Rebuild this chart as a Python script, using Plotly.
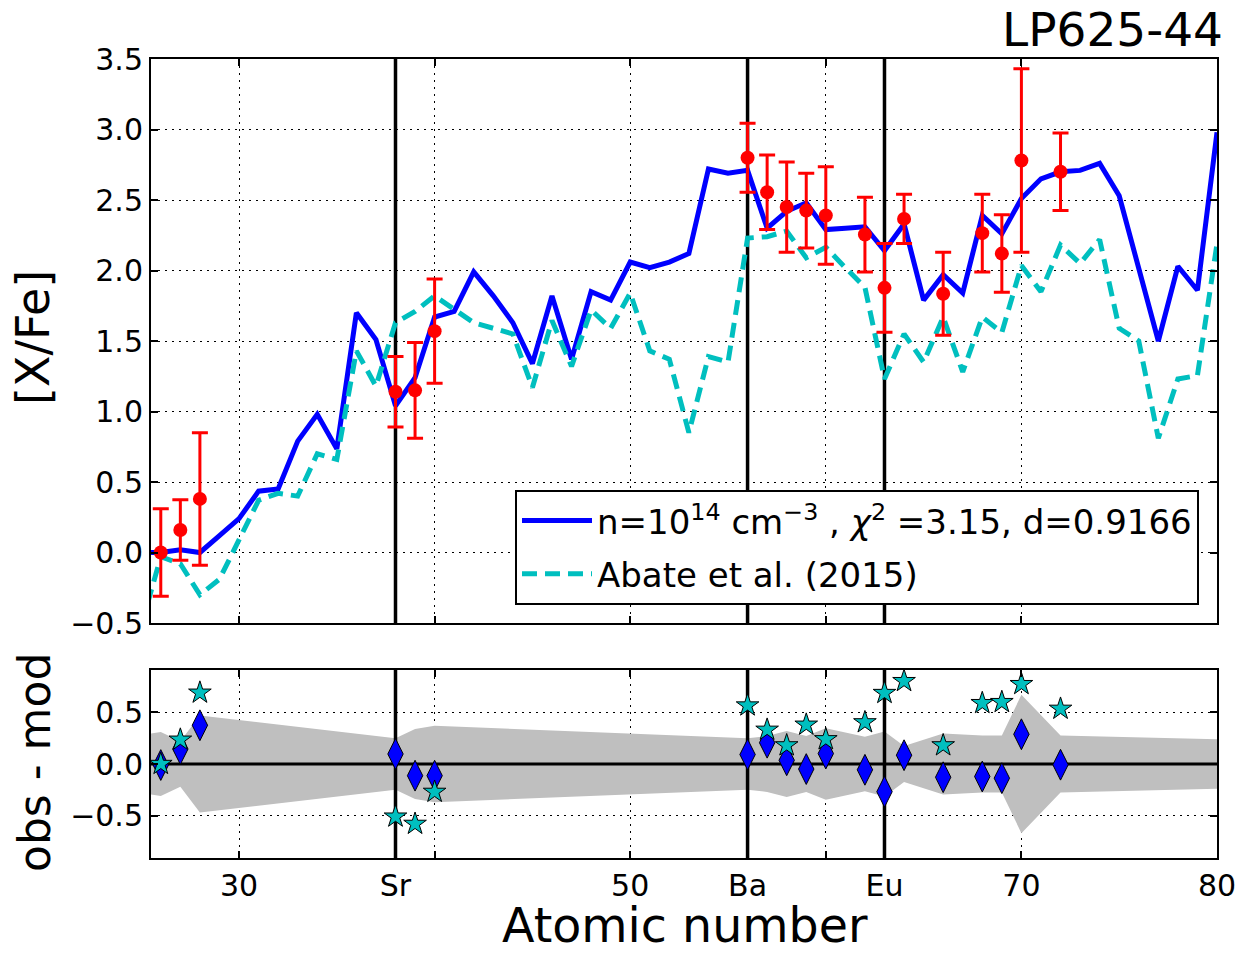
import plotly.graph_objects as go

# ---------------- data ----------------
model_z = list(range(25, 81))
model_n14 = [0.0, 0.0, 0.02, 0.0, 0.12, 0.24, 0.435, 0.45, 0.79, 0.98,
             0.735, 1.70, 1.51, 1.04, 1.24, 1.67, 1.71, 1.99, 1.82, 1.63,
             1.34, 1.82, 1.37, 1.85, 1.79, 2.06, 2.02, 2.06, 2.12, 2.72,
             2.69, 2.71, 2.30, 2.42, 2.48, 2.29, 2.30, 2.31, 2.14, 2.33,
             1.79, 1.97, 1.84, 2.39, 2.26, 2.51, 2.65, 2.70, 2.71, 2.76,
             2.53, 2.02, 1.50, 2.03, 1.86, 2.98]
model_abate = [-0.52, -0.03, -0.08, -0.30, -0.19, 0.10, 0.37, 0.42, 0.40, 0.70,
               0.66, 1.43, 1.18, 1.63, 1.71, 1.82, 1.72, 1.63, 1.59, 1.55,
               1.17, 1.645, 1.32, 1.72, 1.59, 1.84, 1.43, 1.37, 0.85, 1.39,
               1.35, 2.23, 2.24, 2.28, 2.09, 2.165, 2.02, 1.88, 1.23, 1.55,
               1.35, 1.67, 1.28, 1.67, 1.56, 2.035, 1.85, 2.18, 2.05, 2.22,
               1.59, 1.50, 0.81, 1.23, 1.255, 2.19]

obs_z = [26, 27, 28, 38, 39, 40, 56, 57, 58, 59, 60, 62, 63, 64, 66, 68, 69, 70, 72]
obs_val = [0.0, 0.16, 0.38, 1.14, 1.15, 1.57, 2.80, 2.555, 2.45, 2.425, 2.39,
           2.255, 1.877, 2.366, 1.835, 2.265, 2.12, 2.78, 2.70]
obs_err = [0.31, 0.215, 0.47, 0.25, 0.34, 0.37, 0.245, 0.265, 0.32, 0.265, 0.345,
           0.265, 0.315, 0.175, 0.295, 0.275, 0.275, 0.65, 0.275]

resid_model = [-0.01, 0.145, 0.375, 0.097, -0.113, -0.113, 0.092, 0.206, 0.036,
               -0.049, 0.101, -0.056, -0.268, 0.085, -0.128, -0.121, -0.137,
               0.288, -0.007]
resid_abate = [0.0, 0.235, 0.69, -0.51, -0.58, -0.27, 0.566, 0.331, 0.180, 0.380,
               0.239, 0.403, 0.687, 0.802, 0.180, 0.589, 0.599, 0.773, 0.534]

band_z = [25, 26, 27, 28, 38, 39, 40, 56, 57, 58, 59, 60, 62, 63, 64, 66, 68, 69, 70, 72, 80]
band_err = [0.28, 0.31, 0.22, 0.47, 0.25, 0.34, 0.37, 0.25, 0.27, 0.32, 0.27, 0.345,
            0.265, 0.315, 0.175, 0.295, 0.275, 0.275, 0.67, 0.275, 0.24]

marked_z = [38, 56, 63]
x_range = [25.5, 80]
top_y_range = [-0.5, 3.5]
bot_y_range = [-0.91, 0.91]
x_tickvals = [30, 38, 50, 56, 63, 70, 80]
x_ticktext = ["30", "Sr", "50", "Ba", "Eu", "70", "80"]
x_minor_grid = [40, 60]
top_y_ticks = [-0.5, 0.0, 0.5, 1.0, 1.5, 2.0, 2.5, 3.0, 3.5]
bot_y_ticks = [-0.5, 0.0, 0.5]

legend_model = "n=10<sup>14</sup> cm<sup>\u22123</sup> , <i>\u03c7</i><sup>2</sup> =3.15, d=0.9166"
legend_abate = "Abate et al. (2015)"

BLUE = "#0000FF"
CYAN = "#00BFBF"
RED = "#FF0000"
GRAY = "#BFBFBF"

fig = go.Figure()

# ---- bottom panel: uncertainty band ----
fig.add_trace(go.Scatter(
    x=band_z + band_z[::-1],
    y=band_err + [-e for e in band_err[::-1]],
    xaxis="x2", yaxis="y2", mode="lines", fill="toself",
    fillcolor=GRAY, line=dict(width=0, color=GRAY),
    showlegend=False, hoverinfo="skip"))

# zero line bottom
fig.add_trace(go.Scatter(
    x=x_range, y=[0, 0], xaxis="x2", yaxis="y2", mode="lines",
    line=dict(color="black", width=3), showlegend=False, hoverinfo="skip"))

# vertical element lines, both panels
for z in marked_z:
    fig.add_trace(go.Scatter(
        x=[z, z], y=bot_y_range, xaxis="x2", yaxis="y2", mode="lines",
        line=dict(color="black", width=3.5), showlegend=False, hoverinfo="skip"))
    fig.add_trace(go.Scatter(
        x=[z, z], y=top_y_range, xaxis="x", yaxis="y", mode="lines",
        line=dict(color="black", width=3.5), showlegend=False, hoverinfo="skip"))

# ---- top panel: models ----
fig.add_trace(go.Scatter(
    x=model_z, y=model_n14, xaxis="x", yaxis="y", mode="lines",
    line=dict(color=BLUE, width=5), name=legend_model, legendgroup="a"))
fig.add_trace(go.Scatter(
    x=model_z, y=model_abate, xaxis="x", yaxis="y", mode="lines",
    line=dict(color=CYAN, width=5, dash="15px,8px"), name=legend_abate,
    legendgroup="b"))

# observations
fig.add_trace(go.Scatter(
    x=obs_z, y=obs_val, xaxis="x", yaxis="y", mode="markers",
    marker=dict(color=RED, size=14),
    error_y=dict(type="data", array=obs_err, color=RED, thickness=3, width=8),
    showlegend=False))

# ---- bottom panel residuals ----
fig.add_trace(go.Scatter(
    x=obs_z, y=resid_model, xaxis="x2", yaxis="y2", mode="markers",
    marker=dict(symbol="diamond-tall", color=BLUE, size=22,
                line=dict(color="black", width=1)),
    showlegend=False))
fig.add_trace(go.Scatter(
    x=obs_z, y=resid_abate, xaxis="x2", yaxis="y2", mode="markers",
    marker=dict(symbol="star", color=CYAN, size=17,
                line=dict(color="black", width=1)),
    showlegend=False))

axis_common = dict(showline=True, linecolor="black", linewidth=2, mirror="ticks",
                   ticks="inside", ticklen=7, tickwidth=1.5, tickcolor="black",
                   showgrid=True, gridcolor="black", gridwidth=1, griddash="2px,5px",
                   zeroline=False, automargin=False,
                   tickfont=dict(size=30, family="DejaVu Sans"))
x_minor = dict(tickvals=x_minor_grid, showgrid=True, gridcolor="black",
               gridwidth=1, griddash="2px,5px", ticks="inside", ticklen=7,
               tickwidth=1.5, tickcolor="black")

top_bottom_px = 623
bot_top_px = 670
plot_top, plot_bot = 59, 858
ph = plot_bot - plot_top

fig.update_layout(
    width=1244, height=953,
    margin=dict(l=151, r=27, t=59, b=95, pad=0, autoexpand=False),
    paper_bgcolor="white", plot_bgcolor="white",
    font=dict(family="DejaVu Sans", color="black", size=30),
    xaxis=dict(domain=[0, 1], anchor="y", range=x_range,
               tickmode="array", tickvals=x_tickvals, ticktext=x_ticktext,
               showticklabels=False, minor=x_minor, **axis_common),
    xaxis2=dict(domain=[0, 1], anchor="y2", range=x_range, matches="x",
                tickmode="array", tickvals=x_tickvals, ticktext=x_ticktext,
                showticklabels=True, minor=x_minor, **axis_common),
    yaxis=dict(domain=[(plot_bot - top_bottom_px) / ph, 1], anchor="x",
               range=top_y_range, tickmode="array", tickvals=top_y_ticks,
               tickformat=".1f", **axis_common),
    yaxis2=dict(domain=[0, (plot_bot - bot_top_px) / ph], anchor="x2",
                range=bot_y_range, tickmode="array", tickvals=bot_y_ticks,
                tickformat=".1f", **axis_common),
    legend=dict(x=(1199 - 151) / 1066, y=(plot_bot - 605) / ph,
                xanchor="right", yanchor="bottom",
                bordercolor="black", borderwidth=2, bgcolor="white",
                itemwidth=70, tracegroupgap=6,
                font=dict(size=34, family="DejaVu Sans")),
    annotations=[
        dict(text="LP625-44", xref="paper", yref="paper", x=1, y=1,
             xanchor="right", yanchor="bottom", showarrow=False,
             xshift=8,
             font=dict(size=47, family="DejaVu Sans")),
        dict(text="[X/Fe]", xref="paper", yref="paper",
             x=(33 - 151) / 1066, y=(plot_bot - 338) / ph, textangle=-90,
             xanchor="center", yanchor="middle", showarrow=False,
             font=dict(size=46, family="DejaVu Sans")),
        dict(text="obs - mod", xref="paper", yref="paper",
             x=(34 - 151) / 1066, y=(plot_bot - 763) / ph, textangle=-90,
             xanchor="center", yanchor="middle", showarrow=False,
             font=dict(size=44, family="DejaVu Sans")),
        dict(text="Atomic number", xref="paper", yref="paper",
             x=(685 - 151) / 1066, y=(plot_bot - 926) / ph,
             xanchor="center", yanchor="middle", showarrow=False,
             font=dict(size=47.5, family="DejaVu Sans")),
    ],
)

fig.write_html("out.html", config={"displayModeBar": False},
               post_script="document.body.style.margin='0px';")
